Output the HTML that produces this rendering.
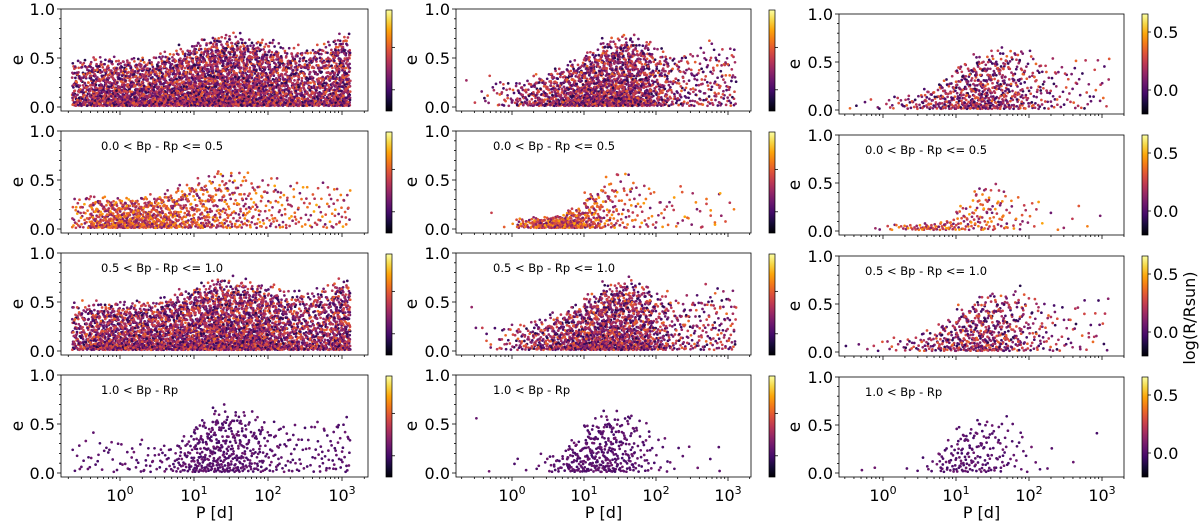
<!DOCTYPE html>
<html><head><meta charset="utf-8"><style>
html,body{margin:0;padding:0;background:#fff;width:1200px;height:523px;overflow:hidden}
svg{display:block;font-family:"DejaVu Sans","Liberation Sans",sans-serif}
</style></head><body>
<svg id="fig" width="1200" height="523" viewBox="0 0 1200 523"></svg>
<script>
// bins of log10(P) centres (width 0.235)
const binCenters=[-0.53,-0.295,-0.06,0.175,0.41,0.645,0.88,1.115,1.35,1.585,1.82,2.055,2.29,2.525,2.76,2.995];
const rowLabels=["","0.0 < Bp - Rp <= 0.5","0.5 < Bp - Rp <= 1.0","1.0 < Bp - Rp"];
const xTickLabels=["0","1","2","3"];
const yTickLabels=["0.0","0.5","1.0"];
const cbarTickLabels=["0.0","0.5"];
const countsR1C1=[150,230,260,270,270,290,320,370,400,400,370,290,230,200,210,330];
const emaxR1C1=[0.45,0.45,0.45,0.45,0.45,0.5,0.55,0.62,0.66,0.66,0.62,0.6,0.55,0.55,0.6,0.66];
const countsR2C1=[40,110,140,150,140,120,100,90,80,60,45,35,28,22,22,25];
const emaxR2C1=[0.32,0.3,0.28,0.28,0.3,0.35,0.42,0.48,0.55,0.55,0.5,0.5,0.45,0.45,0.45,0.45];
const countsR3C1=[130,200,230,240,240,260,290,340,370,370,340,260,200,170,190,300];
const emaxR3C1=[0.45,0.45,0.45,0.45,0.45,0.5,0.55,0.62,0.66,0.66,0.62,0.6,0.55,0.55,0.6,0.66];
const countsR4C1=[10,10,10,12,15,20,45,90,110,90,60,35,22,18,22,30];
const emaxR4C1=[0.35,0.4,0.35,0.3,0.3,0.3,0.35,0.5,0.62,0.6,0.55,0.5,0.5,0.5,0.5,0.55];
const countsR1C2=[3,10,25,55,90,140,210,290,340,330,250,130,70,55,55,55];
const emaxR1C2=[0.5,0.3,0.25,0.25,0.3,0.35,0.42,0.52,0.62,0.66,0.62,0.55,0.5,0.55,0.6,0.6];
const countsR2C2=[0,1,2,30,70,100,120,90,55,35,20,14,10,8,8,5];
const emaxR2C2=[0,0.15,0.15,0.1,0.1,0.12,0.18,0.35,0.5,0.55,0.45,0.4,0.4,0.4,0.4,0.35];
const countsR3C2=[2,8,20,45,75,120,180,250,300,290,220,110,60,48,48,48];
const emaxR3C2=[0.5,0.3,0.25,0.25,0.3,0.35,0.42,0.52,0.62,0.66,0.62,0.55,0.5,0.55,0.6,0.6];
const countsR4C2=[1,1,1,2,6,20,55,85,95,65,30,10,4,2,2,1];
const emaxR4C2=[0.7,0.4,0.3,0.2,0.2,0.2,0.3,0.5,0.58,0.58,0.5,0.4,0.4,0.3,0.3,0.3];
const countsR1C3=[1,2,4,10,20,40,70,110,150,130,90,50,30,18,14,12];
const emaxR1C3=[0.1,0.1,0.1,0.15,0.15,0.2,0.3,0.45,0.52,0.58,0.6,0.55,0.5,0.5,0.5,0.6];
const countsR2C3=[0,0,2,8,14,20,26,32,45,30,14,7,3,2,2,1];
const emaxR2C3=[0,0,0.06,0.06,0.06,0.06,0.1,0.25,0.45,0.45,0.35,0.35,0.3,0.3,0.3,0.35];
const countsR3C3=[1,2,3,8,16,32,60,95,125,110,75,40,25,15,12,10];
const emaxR3C3=[0.1,0.1,0.1,0.15,0.15,0.2,0.3,0.45,0.52,0.58,0.6,0.55,0.5,0.5,0.5,0.6];
const countsR4C3=[0,1,1,0,2,6,30,50,45,30,14,5,2,1,0,1];
const emaxR4C3=[0,0.06,0.06,0,0.1,0.15,0.3,0.45,0.55,0.55,0.5,0.45,0.3,0.25,0.2,0.5];
const rowColorMean=[0.17,0.33,0.17,0.02];
const rowColorSpread=[0.28,0.27,0.28,0.06];

const panels=[
 [[countsR1C1,emaxR1C1],[countsR1C2,emaxR1C2],[countsR1C3,emaxR1C3]],
 [[countsR2C1,emaxR2C1],[countsR2C2,emaxR2C2],[countsR2C3,emaxR2C3]],
 [[countsR3C1,emaxR3C1],[countsR3C2,emaxR3C2],[countsR3C3,emaxR3C3]],
 [[countsR4C1,emaxR4C1],[countsR4C2,emaxR4C2],[countsR4C3,emaxR4C3]]];

const NS="http://www.w3.org/2000/svg";
const fig=document.getElementById('fig');
function mk(tag,attrs,parent){const e=document.createElementNS(NS,tag);for(const k in attrs)e.setAttribute(k,attrs[k]);(parent||fig).appendChild(e);return e;}
const cols=[{x0:61,x1:368,xz:120,ppd:74,cb:386,yl:18},{x0:456,x1:751,xz:512,ppd:72,cb:769,yl:412},{x0:839,x1:1124,xz:883,ppd:73,cb:1142,yl:795}];
const rowTopsA=[9,131,253,375],rowTopsC=[14,135,256,377];
const infernoStops=["#000004","#160b39","#420a68","#6a176e","#932667","#bc3754","#dd513a","#f37819","#fca50a","#f6d746","#fcffa4"];
function hex(h){return [1,3,5].map(i=>parseInt(h.substr(i,2),16));}
function inferno(t){t=Math.max(0,Math.min(1,t));const p=t*10,i=Math.min(9,Math.floor(p)),f=p-i;const a=hex(infernoStops[i]),b=hex(infernoStops[i+1]);return "rgb("+a.map((v,k)=>Math.round(v+(b[k]-v)*f)).join(",")+")";}
function halton(i,b){let f=1,r=0;while(i>0){f/=b;r+=f*(i%b);i=Math.floor(i/b);}return r;}
const vmin=-0.25,vmax=0.8;
const grad=mk('defs',{});
const lg=mk('linearGradient',{id:'inf',x1:0,y1:1,x2:0,y2:0},grad);
infernoStops.forEach((c,i)=>mk('stop',{offset:i/10,'stop-color':c},lg));
let seq=1;
for(let r=0;r<4;r++)for(let c=0;c<3;c++){
 const C=cols[c];const top=c==2?rowTopsC[r]:rowTopsA[r];const H=c==2?100:102;
 const bot=top+H;const yz=bot-4,yo=top;
 const X=l=>C.xz+l*C.ppd;const Y=e=>yz-(yz-yo)*e;
 const g=mk('g',{});
 
 
 const pts=mk('g',{},g);
 
 
 const [cnt,em]=panels[r][c];
 binCenters.forEach((bc,bi)=>{
  for(let k=0;k<cnt[bi];k++){
   const i=seq++;const u=halton(i,2),v=halton(i,3),w=halton(i,5),z=halton(i,7);
   const l=bc-0.1175+0.235*u;
   const e=Math.max(0.012,em[bi]*(0.8+0.35*z)*Math.pow(v,1.35)+0.012);
   const cv=rowColorMean[r]+rowColorSpread[r]*(w-0.5)*2;
   const cx=X(l);if(cx<C.x0+3||cx>C.x1-3)continue;
   mk('circle',{cx:cx.toFixed(1),cy:Y(Math.min(e,0.95)).toFixed(1),r:1.35,fill:inferno((cv-vmin)/(vmax-vmin))},pts);
  }
 });
 const fr=mk('rect',{x:C.x0,y:top,width:C.x1-C.x0,height:H,fill:'none',stroke:'#000','stroke-width':0.8},g);
 
 
 for(let t=0;t<=10;t++){const y=Y(t/10);const maj=t%5==0;mk('line',{x1:C.x0,x2:C.x0-(maj?4:2),y1:y,y2:y,stroke:'#000','stroke-width':0.8},g);
  if(maj){const tx=mk('text',{x:C.x0-6,y:y+6,'text-anchor':'end','font-size':16},g);tx.textContent=yTickLabels[t/5];
   
   }}
 const yl=mk('text',{x:C.yl+5,y:(top+bot)/2,'text-anchor':'middle','font-size':17,transform:'rotate(-90 '+(C.yl+5)+' '+(top+bot)/2+')'},g);yl.textContent='e';
 
 
 for(let d=-1;d<=3;d++)for(let m=1;m<10;m++){const l=d+Math.log10(m);const x=X(l);if(x<C.x0||x>C.x1)continue;
  mk('line',{x1:x,x2:x,y1:bot,y2:bot+(m==1?4:2),stroke:'#000','stroke-width':0.8},g);
  if(m==1&&r==3){const tx=mk('text',{x:x,y:bot+24,'text-anchor':'middle','font-size':16},g);tx.innerHTML='10<tspan dy="-7" font-size="11">'+xTickLabels[d]+'</tspan>';
   
   }}
 if(r==3){const xl=mk('text',{x:(C.x0+C.x1)/2,y:518,'text-anchor':'middle','font-size':16},g);xl.textContent='P [d]';
  
  }
 if(r>0){const an=mk('text',{x:C.x0+(c==2?26:40)+(c==1?-3:0),y:top+19,'font-size':11.5},g);an.textContent=rowLabels[r];
  
  }
 const ct=c==2?top:top+1,cbh=c==2?100:101;
 const cb=mk('rect',{x:C.cb,y:ct,width:6,height:cbh,fill:'url(#inf)',stroke:'#000','stroke-width':0.7},g);
 
 
 const tf=c==2?[0.76,0.18]:[0.79,0.37];
 tf.forEach((f,i)=>{const y=ct+cbh*f;mk('line',{x1:C.cb+6,x2:C.cb+9,y1:y,y2:y,stroke:'#000','stroke-width':0.8},g);
  if(c==2){const tx=mk('text',{x:C.cb+11,y:y+6,'font-size':16},g);tx.textContent=cbarTickLabels[i];
   
   }});
}
const cl=mk('text',{x:1195,y:318,'text-anchor':'middle','font-size':16,transform:'rotate(-90 1195 318)'});cl.textContent='log(R/Rsun)';


</script>
</body></html>
